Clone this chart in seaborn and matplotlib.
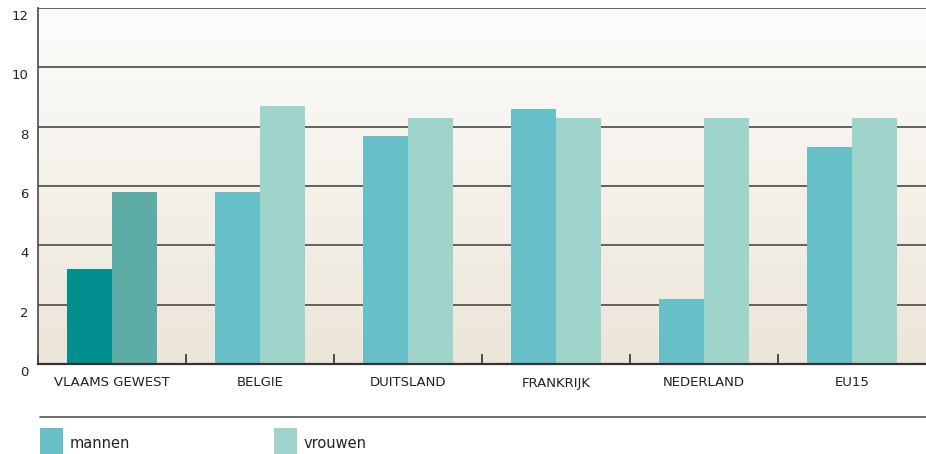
## Werkloosheid mannen / vrouwen per regio

#----------------------------------------------------
# import
#----------------------------------------------------

import matplotlib
matplotlib.use("Agg")
import matplotlib.pyplot as plt
import matplotlib.transforms as mtransforms
from matplotlib.patches import Rectangle
from matplotlib.colors import LinearSegmentedColormap
import seaborn as sns
import numpy as np
import pandas as pd

#----------------------------------------------------
# data
#----------------------------------------------------

regions = ["VLAAMS GEWEST", "BELGIE", "DUITSLAND", "FRANKRIJK", "NEDERLAND", "EU15"]
mannen = [3.2, 5.8, 7.7, 8.6, 2.2, 7.3]
vrouwen = [5.8, 8.7, 8.3, 8.3, 8.3, 8.3]
series = ["mannen", "vrouwen"]
y_ticks = [0, 2, 4, 6, 8, 10, 12]

#----------------------------------------------------
# style
#----------------------------------------------------

C_MAN = "#67C0C8"
C_VROUW = "#9FD4CB"
C_MAN_VL = "#008E8E"
C_VROUW_VL = "#5DADA6"
GRID = "#4a4a4a"

sns.set_style("white")
plt.rcParams['font.family'] = ['DejaVu Sans']


def main():
    df = pd.DataFrame({
        "regio": regions * 2,
        "waarde": mannen + vrouwen,
        "geslacht": [series[0]] * len(regions) + [series[1]] * len(regions),
    })

    fig = plt.figure(figsize=(9.26, 4.54), dpi=100)
    ax = fig.add_axes([38 / 926, 90 / 454, 1 - 38 / 926, 356 / 454])

    # background gradient
    bg = LinearSegmentedColormap.from_list("bg", ["#ECE5D9", "#FDFDFC"])
    ax.imshow(np.linspace(0, 1, 256).reshape(-1, 1), cmap=bg, aspect="auto",
              extent=(-0.5, 5.5, 0, 12), origin="lower", zorder=0)

    sns.barplot(data=df, x="regio", y="waarde", hue="geslacht",
                palette=[C_MAN, C_VROUW], width=0.608, gap=0,
                saturation=1, legend=False, ax=ax, zorder=3)
    ax.containers[0][0].set_facecolor(C_MAN_VL)
    ax.containers[1][0].set_facecolor(C_VROUW_VL)
    for c in ax.containers:
        for p in c:
            p.set_edgecolor("none")

    ax.set_xlim(-0.5, 5.5)
    ax.set_ylim(0, 12)
    ax.set_xlabel("")
    ax.set_ylabel("")

    for v in y_ticks[1:]:
        ax.axhline(v, color=GRID, lw=1.2, zorder=1)

    ax.set_yticks(y_ticks)
    ax.set_yticklabels([str(v) for v in y_ticks], fontsize=9.5, color="#222222")
    ax.tick_params(axis="y", length=0, pad=7)
    offset = mtransforms.ScaledTranslation(0, -7 / 100, fig.dpi_scale_trans)
    for lab in ax.get_yticklabels():
        lab.set_transform(lab.get_transform() + offset)

    ax.set_xticks(range(len(regions)))
    ax.set_xticklabels(regions, fontsize=9.5, color="#222222")
    ax.tick_params(axis="x", which="major", length=0, pad=9)
    ax.set_xticks(np.arange(-0.5, 5.0, 1.0), minor=True)
    ax.tick_params(axis="x", which="minor", bottom=True, direction="in",
                   length=7, width=1.2, color="#333333")

    for s in ["top", "right"]:
        ax.spines[s].set_visible(False)
    ax.spines["left"].set_color(GRID)
    ax.spines["left"].set_linewidth(1.2)
    ax.spines["bottom"].set_color("#333333")
    ax.spines["bottom"].set_linewidth(1.6)
    ax.spines["bottom"].set_zorder(5)

    # legend
    fig.add_artist(plt.Line2D([40 / 926, 1.0], [1 - 417 / 454] * 2,
                              color="#555555", lw=1.2, transform=fig.transFigure))
    for x0, col, name in [(40, C_MAN, series[0]), (274, C_VROUW, series[1])]:
        fig.add_artist(Rectangle((x0 / 926, 0), 23 / 926, 26 / 454,
                                 facecolor=col, edgecolor="none",
                                 transform=fig.transFigure))
        fig.text((x0 + 30) / 926, 1 - 444 / 454, name, fontsize=10.5,
                 color="#222222", va="center", ha="left")

    fig.savefig("out.png", dpi=100)
    return


if __name__ == '__main__':
    main()
